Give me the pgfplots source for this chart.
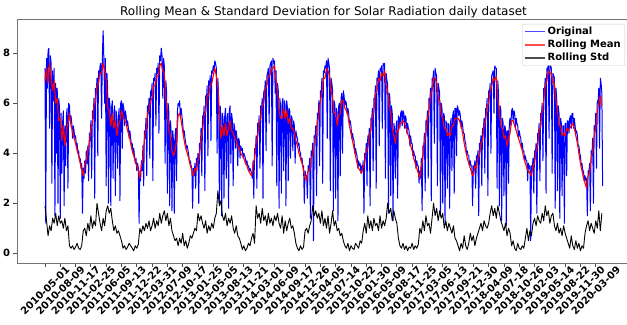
\documentclass[border=0pt]{standalone}
\usepackage{pgfplots}
\pgfplotsset{compat=1.18}
\usepackage{fontspec}
\setmainfont{DejaVu Sans}
\begin{document}
\begin{tikzpicture}
\begin{axis}[
  name=ax,
  scale only axis, width=613pt, height=244pt,
  xmin=-183, xmax=3824, ymin=-0.39, ymax=9.37,
  axis line style={black!55, line width=0.8pt},
  tick style={black!70, line width=0.8pt},
  tick align=outside, major tick length=3.5pt,
  tick pos=left,
  ytick={0,2,4,6,8},
  xtick={0,100,...,3600},
  xticklabels={2010-05-01,2010-08-09,2010-11-17,2011-02-25,2011-06-05,2011-09-13,2011-12-22,2012-03-31,2012-07-09,2012-10-17,2013-01-25,2013-05-05,2013-08-13,2013-11-21,2014-03-01,2014-06-09,2014-09-17,2014-12-26,2015-04-05,2015-07-14,2015-10-22,2016-01-30,2016-05-09,2016-08-17,2016-11-25,2017-03-05,2017-06-13,2017-09-21,2017-12-30,2018-04-09,2018-07-18,2018-10-26,2019-02-03,2019-05-14,2019-08-22,2019-11-30,2020-03-09},
  /pgf/number format/assume math mode=true,
  ticklabel style={font=\bfseries\fontsize{10}{12}\selectfont},
  xticklabel style={yshift=-24pt, rotate=45, anchor=center, inner sep=0pt},
  title={Rolling Mean \& Standard Deviation for Solar Radiation daily dataset},
  title style={font=\fontsize{12}{14}\selectfont, at={(0.5,1)}, anchor=base, yshift=-3pt},
  legend style={at={(1,1)}, anchor=north east, xshift=-5pt, yshift=-5pt, draw=black!20, rounded corners=2pt, fill=white, font=\bfseries\fontsize{10}{12}\selectfont, inner xsep=2pt, inner ysep=1pt},
  legend cell align=left,
  legend image code/.code={\draw[mark repeat=2,mark phase=2,#1] plot coordinates {(0cm,0cm) (0.35cm,0cm) (0.7cm,0cm)};},
  legend image post style={line width=1.4pt, opacity=0.7},
]
\addplot[blue, line width=1.0pt, line join=round] coordinates {
(0,7.4)(5,1.2)(10,7.8)(15,6.6)(20,8.1)(25,8.2)(30,5.0)(35,7.9)(40,7.6)(45,2.8)(50,7.3)(55,6.1)(60,7.4)(65,1.5)(70,6.8)(75,4.0)(80,6.6)(85,2.0)(90,6.2)(95,5.8)(100,1.4)(105,5.6)(110,3.2)(115,5.2)(120,5.7)(125,1.9)(130,5.1)(135,3.5)(140,5.5)(145,5.8)(150,2.6)(155,6.0)(160,5.9)(165,5.3)(170,5.5)(175,5.2)(180,4.6)(185,5.1)(190,4.9)(195,4.6)(200,4.7)(205,4.3)(210,4.4)(215,4.0)(220,4.1)(225,3.7)(230,3.8)(235,3.4)(240,3.6)(245,1.6)(250,3.4)(255,3.0)(260,3.7)(265,3.2)(270,4.1)(275,3.6)(280,4.3)(285,2.9)(290,4.8)(295,4.5)(300,5.3)(305,3.0)(310,5.7)(315,5.4)(320,6.2)(325,2.2)(330,6.6)(335,6.4)(340,7.0)(345,3.9)(350,7.3)(355,7.1)(360,7.5)
(365,7.6)(370,5.4)(375,7.9)(380,8.9)(385,7.7)(390,6.0)(395,7.8)(400,2.7)(405,7.2)(410,6.5)(415,2.0)(420,6.2)(425,5.9)(430,1.9)(435,5.8)(440,6.1)(445,3.0)(450,5.6)(455,5.9)(460,2.3)(465,5.7)(470,5.3)(475,3.4)(480,5.5)(485,5.8)(490,2.1)(495,6.0)(500,6.1)(505,4.2)(510,6.0)(515,5.8)(520,5.1)(525,5.7)(530,5.5)(535,5.1)(540,5.3)(545,5.0)(550,4.6)(555,4.9)(560,4.6)(565,4.3)(570,4.4)(575,4.0)(580,4.2)(585,3.9)(590,3.6)(595,3.8)(600,3.3)(605,3.6)(610,3.4)(615,1.2)(620,3.3)(625,2.9)(630,3.7)(635,3.3)(640,4.3)(645,2.7)(650,4.9)(655,4.6)(660,5.4)(665,3.1)(670,5.9)(675,5.6)(680,6.2)(685,3.8)(690,6.5)(695,6.3)(700,6.8)(705,2.9)(710,7.0)(715,6.9)(720,7.2)(725,5.1)
(730,7.4)(735,7.2)(740,7.6)(745,4.8)(750,7.9)(755,7.7)(760,8.2)(765,7.9)(770,6.2)(775,7.8)(780,7.5)(785,3.6)(790,6.9)(795,6.4)(800,2.4)(805,6.0)(810,5.6)(815,1.9)(820,5.3)(825,4.8)(830,1.7)(835,4.9)(840,4.5)(845,1.6)(850,4.7)(855,5.0)(860,2.9)(865,5.6)(870,6.0)(875,5.9)(880,6.1)(885,5.5)(890,5.8)(895,5.5)(900,5.2)(905,4.8)(910,4.9)(915,4.6)(920,4.4)(925,4.2)(930,4.3)(935,4.1)(940,3.9)(945,3.6)(950,3.7)(955,3.5)(960,3.4)(965,1.8)(970,3.4)(975,3.1)(980,3.6)(985,2.6)(990,3.8)(995,3.5)(1000,4.0)(1005,2.0)(1010,4.4)(1015,4.2)(1020,5.0)(1025,3.1)(1030,5.5)(1035,5.3)(1040,5.9)(1045,2.5)(1050,6.3)(1055,6.1)(1060,6.7)(1065,3.9)(1070,6.9)(1075,6.7)(1080,7.1)(1085,4.5)(1090,7.3)(1095,7.2)
(1100,7.5)(1105,7.3)(1110,7.7)(1115,7.6)(1120,7.4)(1125,4.0)(1130,7.0)(1135,6.2)(1140,2.0)(1145,5.9)(1150,5.4)(1155,1.5)(1160,5.6)(1165,5.3)(1170,2.2)(1175,5.5)(1180,5.8)(1185,3.0)(1190,5.4)(1195,5.6)(1200,1.8)(1205,5.7)(1210,5.9)(1215,3.6)(1220,5.6)(1225,5.3)(1230,2.7)(1235,5.2)(1240,5.0)(1245,4.2)(1250,4.9)(1255,4.6)(1260,3.5)(1265,4.6)(1270,4.5)(1275,3.8)(1280,4.3)(1285,4.1)(1290,4.2)(1295,3.8)(1300,4.0)(1305,3.9)(1310,3.8)(1315,3.6)(1320,3.7)(1325,3.5)(1330,3.5)(1335,3.3)(1340,3.4)(1345,3.3)(1350,3.2)(1355,3.0)(1360,3.7)(1365,2.2)(1370,4.2)(1375,4.0)(1380,4.7)(1385,2.6)(1390,5.2)(1395,5.0)(1400,5.5)(1405,3.4)(1410,5.9)(1415,5.7)(1420,6.2)(1425,2.2)(1430,6.5)(1435,6.4)(1440,6.9)(1445,4.1)(1450,7.1)(1455,7.2)
(1460,7.4)(1465,5.2)(1470,7.5)(1475,7.6)(1480,7.7)(1485,3.5)(1490,7.8)(1495,7.6)(1500,7.7)(1505,6.4)(1510,7.3)(1515,2.7)(1520,6.8)(1525,6.5)(1530,1.8)(1535,6.2)(1540,5.9)(1545,2.4)(1550,6.0)(1555,6.2)(1560,3.3)(1565,6.1)(1570,5.9)(1575,1.9)(1580,6.1)(1585,5.8)(1590,2.9)(1595,5.8)(1600,5.7)(1605,3.8)(1610,5.5)(1615,5.4)(1620,4.1)(1625,5.3)(1630,5.1)(1635,3.6)(1640,4.9)(1645,4.7)(1650,4.6)(1655,4.3)(1660,4.4)(1665,4.1)(1670,4.0)(1675,3.7)(1680,3.8)(1685,3.5)(1690,3.5)(1695,2.0)(1700,3.3)(1705,3.1)(1710,3.1)(1715,2.2)(1720,3.5)(1725,3.3)(1730,3.8)(1735,1.4)(1740,4.1)(1745,3.9)(1750,4.4)(1755,0.5)(1760,4.7)(1765,4.6)(1770,5.1)(1775,2.3)(1780,5.6)(1785,5.4)(1790,6.1)(1795,3.5)(1800,6.5)(1805,6.4)(1810,7.0)(1815,2.8)(1820,7.3)(1825,7.2)
(1830,7.5)(1835,7.4)(1840,7.7)(1845,4.6)(1850,7.8)(1855,7.6)(1860,7.4)(1865,2.5)(1870,7.0)(1875,6.8)(1880,6.5)(1885,1.7)(1890,6.1)(1895,5.9)(1900,2.2)(1905,5.8)(1910,5.6)(1915,1.3)(1920,5.9)(1925,6.0)(1930,3.1)(1935,6.2)(1940,6.4)(1945,4.0)(1950,6.5)(1955,6.3)(1960,5.9)(1965,6.1)(1970,6.0)(1975,5.6)(1980,5.8)(1985,5.6)(1990,5.2)(1995,5.3)(2000,5.1)(2005,4.6)(2010,4.8)(2015,4.6)(2020,4.5)(2025,4.0)(2030,4.2)(2035,4.0)(2040,3.9)(2045,3.4)(2050,3.7)(2055,3.5)(2060,3.6)(2065,3.2)(2070,3.5)(2075,3.3)(2080,3.7)(2085,1.6)(2090,4.0)(2095,3.8)(2100,4.4)(2105,2.7)(2110,4.7)(2115,4.5)(2120,5.0)(2125,1.9)(2130,5.4)(2135,5.3)(2140,5.8)(2145,3.3)(2150,6.2)(2155,6.1)(2160,6.7)(2165,2.6)(2170,7.0)(2175,6.9)(2180,7.3)(2185,4.3)(2190,7.4)(2195,7.3)
(2200,7.5)(2205,5.0)(2210,7.6)(2215,7.5)(2220,7.6)(2225,3.0)(2230,7.2)(2235,6.9)(2240,6.8)(2245,1.6)(2250,6.4)(2255,6.2)(2260,2.3)(2265,5.9)(2270,5.6)(2275,1.3)(2280,5.2)(2285,5.0)(2290,3.0)(2295,5.1)(2300,5.3)(2305,2.2)(2310,5.5)(2315,5.4)(2320,5.0)(2325,5.6)(2330,5.7)(2335,5.1)(2340,5.7)(2345,5.6)(2350,5.0)(2355,5.5)(2360,5.4)(2365,4.8)(2370,5.2)(2375,5.0)(2380,4.9)(2385,4.3)(2390,4.7)(2395,4.4)(2400,4.4)(2405,3.9)(2410,4.1)(2415,3.9)(2420,3.9)(2425,3.4)(2430,3.7)(2435,3.5)(2440,3.5)(2445,2.8)(2450,3.3)(2455,3.0)(2460,3.8)(2465,1.7)(2470,4.3)(2475,4.1)(2480,4.8)(2485,2.5)(2490,5.3)(2495,5.1)(2500,5.7)(2505,3.0)(2510,6.2)(2515,6.0)(2520,6.6)(2525,2.1)(2530,7.0)(2535,6.9)(2540,7.3)(2545,4.4)(2550,7.4)(2555,7.2)
(2560,7.1)(2565,2.7)(2570,6.8)(2575,6.6)(2580,6.4)(2585,1.5)(2590,6.0)(2595,5.8)(2600,2.0)(2605,5.6)(2610,5.5)(2615,1.2)(2620,5.3)(2625,5.2)(2630,2.6)(2635,5.2)(2640,5.1)(2645,1.8)(2650,5.2)(2655,5.4)(2660,3.3)(2665,5.5)(2670,5.7)(2675,2.4)(2680,5.8)(2685,5.8)(2690,3.9)(2695,5.9)(2700,5.8)(2705,5.5)(2710,5.7)(2715,5.5)(2720,5.0)(2725,5.3)(2730,5.1)(2735,4.8)(2740,4.8)(2745,4.5)(2750,4.4)(2755,4.0)(2760,4.1)(2765,3.9)(2770,3.9)(2775,3.5)(2780,3.7)(2785,3.5)(2790,3.5)(2795,1.9)(2800,3.5)(2805,3.4)(2810,3.7)(2815,2.6)(2820,3.9)(2825,3.7)(2830,4.1)(2835,1.5)(2840,4.4)(2845,4.3)(2850,4.7)(2855,2.7)(2860,5.0)(2865,4.9)(2870,5.4)(2875,3.2)(2880,5.8)(2885,5.7)(2890,6.2)(2895,2.3)(2900,6.5)(2905,6.4)(2910,6.8)(2915,4.0)(2920,7.1)(2925,7.2)
(2930,7.3)(2935,5.6)(2940,7.5)(2945,7.4)(2950,7.4)(2955,2.6)(2960,6.9)(2965,6.3)(2970,1.9)(2975,5.9)(2980,5.7)(2985,1.3)(2990,5.4)(2995,5.2)(3000,2.3)(3005,5.1)(3010,5.0)(3015,1.1)(3020,4.9)(3025,4.9)(3030,2.8)(3035,5.2)(3040,5.4)(3045,5.1)(3050,5.7)(3055,5.8)(3060,5.3)(3065,5.7)(3070,5.6)(3075,5.0)(3080,5.4)(3085,5.2)(3090,5.1)(3095,4.6)(3100,4.9)(3105,4.7)(3110,4.6)(3115,4.2)(3120,4.4)(3125,4.1)(3130,4.1)(3135,3.7)(3140,3.9)(3145,3.7)(3150,3.7)(3155,2.9)(3160,3.6)(3165,3.4)(3170,3.5)(3175,0.5)(3180,3.5)(3185,3.4)(3190,3.8)(3195,2.4)(3200,4.1)(3205,3.9)(3210,4.4)(3215,1.6)(3220,4.8)(3225,4.7)(3230,5.2)(3235,2.9)(3240,5.6)(3245,5.5)(3250,6.0)(3255,3.7)(3260,6.6)(3265,6.5)(3270,7.0)(3275,2.4)(3280,7.4)(3285,7.3)(3290,7.6)(3295,4.6)
(3300,7.7)(3305,7.5)(3310,7.4)(3315,3.2)(3320,7.2)(3325,7.1)(3330,7.0)(3335,1.8)(3340,6.6)(3345,6.2)(3350,2.5)(3355,5.9)(3360,5.6)(3365,1.4)(3370,5.4)(3375,5.2)(3380,2.3)(3385,5.1)(3390,5.1)(3395,1.2)(3400,5.2)(3405,5.2)(3410,3.1)(3415,5.3)(3420,5.3)(3425,4.8)(3430,5.4)(3435,5.5)(3440,5.0)(3445,5.6)(3450,5.6)(3455,5.0)(3460,5.4)(3465,5.1)(3470,4.8)(3475,4.9)(3480,4.7)(3485,4.3)(3490,4.3)(3495,4.0)(3500,3.9)(3505,3.5)(3510,3.6)(3515,3.3)(3520,3.3)(3525,2.9)(3530,3.1)(3535,2.9)(3540,3.0)(3545,1.5)(3550,3.3)(3555,3.2)(3560,3.6)(3565,1.7)(3570,4.1)(3575,3.9)(3580,4.6)(3585,2.0)(3590,5.1)(3595,4.9)(3600,5.6)(3605,3.4)(3610,6.1)(3615,6.0)(3620,6.6)(3625,4.2)(3630,7.0)(3635,6.8)(3640,6.4)(3645,2.7)
};
\addlegendentry{Original}
\addplot[red, line width=1.1pt, line join=round] coordinates {
(0,6.9)(10,7.4)(20,6.8)(30,7.6)(40,7.0)(50,6.5)(60,6.9)(70,6.0)(80,6.2)(90,5.3)(100,5.4)(110,4.5)(120,5.1)(130,4.3)(140,4.9)(150,5.2)(160,5.6)(170,5.1)(180,4.9)(190,4.6)(200,4.4)(210,4.1)(220,3.9)(230,3.6)(240,3.4)(250,3.1)(260,3.6)(270,3.7)(280,4.1)(290,4.4)(300,5.0)(310,5.2)(320,5.9)(330,6.1)(340,6.7)(350,6.8)(360,7.2)
(370,7.2)(380,7.6)(390,7.3)(400,6.9)(410,5.8)(420,5.7)(430,5.1)(440,5.6)(450,5.0)(460,5.3)(470,4.7)(480,5.1)(490,5.3)(500,5.7)(510,5.5)(520,5.3)(530,5.2)(540,4.9)(550,4.7)(560,4.4)(570,4.1)(580,3.9)(590,3.7)(600,3.5)(610,3.3)(620,3.0)(630,3.5)(640,3.8)(650,4.6)(660,4.9)(670,5.6)(680,5.7)(690,6.1)(700,6.2)(710,6.7)(720,6.7)
(730,7.1)(740,7.1)(750,7.5)(760,7.6)(770,7.3)(780,7.2)(790,6.2)(800,5.6)(810,4.9)(820,4.7)(830,4.1)(840,3.9)(850,4.1)(860,4.5)(870,5.5)(880,5.6)(890,5.3)(900,4.9)(910,4.5)(920,4.2)(930,4.0)(940,3.8)(950,3.5)(960,3.3)(970,3.1)(980,3.4)(990,3.3)(1000,3.7)(1010,3.9)(1020,4.6)(1030,4.9)(1040,5.5)(1050,5.7)(1060,6.3)(1070,6.3)(1080,6.7)(1090,6.8)
(1100,7.1)(1110,7.4)(1120,7.1)(1130,6.7)(1140,5.5)(1150,4.6)(1160,5.1)(1170,4.7)(1180,5.2)(1190,4.7)(1200,5.0)(1210,5.3)(1220,4.9)(1230,4.8)(1240,4.6)(1250,4.5)(1260,4.3)(1270,4.2)(1280,4.0)(1290,3.9)(1300,3.8)(1310,3.6)(1320,3.5)(1330,3.3)(1340,3.2)(1350,3.1)(1360,3.5)(1370,3.8)(1380,4.4)(1390,4.7)(1400,5.2)(1410,5.4)(1420,5.9)(1430,6.0)(1440,6.6)(1450,6.7)
(1460,7.1)(1470,7.1)(1480,7.4)(1490,7.4)(1500,7.5)(1510,6.9)(1520,6.5)(1530,5.7)(1540,5.4)(1550,5.4)(1560,5.8)(1570,5.4)(1580,5.7)(1590,5.2)(1600,5.4)(1610,5.0)(1620,5.0)(1630,4.8)(1640,4.5)(1650,4.3)(1660,4.0)(1670,3.8)(1680,3.6)(1690,3.3)(1700,3.0)(1710,2.9)(1720,3.3)(1730,3.3)(1740,3.8)(1750,3.9)(1760,4.4)(1770,4.6)(1780,5.2)(1790,5.5)(1800,6.1)(1810,6.4)(1820,7.0)
(1830,7.0)(1840,7.4)(1850,7.3)(1860,7.1)(1870,6.5)(1880,6.2)(1890,5.6)(1900,5.6)(1910,5.1)(1920,5.5)(1930,5.6)(1940,6.1)(1950,6.1)(1960,5.8)(1970,5.7)(1980,5.5)(1990,5.1)(2000,4.8)(2010,4.5)(2020,4.2)(2030,3.9)(2040,3.6)(2050,3.4)(2060,3.3)(2070,3.2)(2080,3.5)(2090,3.6)(2100,4.1)(2110,4.2)(2120,4.7)(2130,4.9)(2140,5.5)(2150,5.7)(2160,6.4)(2170,6.5)(2180,7.0)(2190,6.9)
(2200,7.2)(2210,7.1)(2220,7.3)(2230,6.7)(2240,6.5)(2250,5.9)(2260,5.6)(2270,5.0)(2280,4.7)(2290,4.4)(2300,4.9)(2310,4.9)(2320,5.2)(2330,5.2)(2340,5.3)(2350,5.2)(2360,5.0)(2370,4.8)(2380,4.6)(2390,4.3)(2400,4.1)(2410,3.8)(2420,3.6)(2430,3.4)(2440,3.2)(2450,3.0)(2460,3.5)(2470,3.8)(2480,4.5)(2490,4.8)(2500,5.4)(2510,5.7)(2520,6.3)(2530,6.5)(2540,7.0)(2550,7.0)
(2560,6.8)(2570,6.2)(2580,6.1)(2590,5.5)(2600,5.4)(2610,5.0)(2620,5.0)(2630,4.7)(2640,4.8)(2650,4.7)(2660,5.1)(2670,5.1)(2680,5.4)(2690,5.4)(2700,5.4)(2710,5.3)(2720,5.1)(2730,4.8)(2740,4.4)(2750,4.1)(2760,3.8)(2770,3.6)(2780,3.4)(2790,3.2)(2800,3.1)(2810,3.5)(2820,3.4)(2830,3.8)(2840,3.9)(2850,4.4)(2860,4.5)(2870,5.1)(2880,5.3)(2890,5.9)(2900,6.0)(2910,6.5)(2920,6.7)
(2930,7.0)(2940,6.9)(2950,7.1)(2960,6.2)(2970,5.6)(2980,5.1)(2990,5.0)(3000,4.6)(3010,4.7)(3020,4.3)(3030,4.6)(3040,4.8)(3050,5.3)(3060,5.3)(3070,5.1)(3080,4.9)(3090,4.7)(3100,4.5)(3110,4.3)(3120,4.1)(3130,3.8)(3140,3.6)(3150,3.4)(3160,3.3)(3170,3.2)(3180,3.1)(3190,3.5)(3200,3.6)(3210,4.1)(3220,4.3)(3230,4.9)(3240,5.1)(3250,5.7)(3260,6.1)(3270,6.7)(3280,6.9)(3290,7.3)
(3300,7.2)(3310,7.2)(3320,6.8)(3330,6.8)(3340,6.1)(3350,5.7)(3360,5.1)(3370,5.1)(3380,4.7)(3390,4.8)(3400,4.7)(3410,5.0)(3420,4.9)(3430,5.0)(3440,5.1)(3450,5.2)(3460,5.0)(3470,4.7)(3480,4.4)(3490,4.0)(3500,3.6)(3510,3.3)(3520,3.0)(3530,2.8)(3540,2.6)(3550,3.1)(3560,3.2)(3570,3.8)(3580,4.1)(3590,4.7)(3600,5.0)(3610,5.7)(3620,6.0)(3630,6.3)(3640,5.9)
};
\addlegendentry{Rolling Mean}
\addplot[black, line width=0.9pt, line join=round] coordinates {
(0,1.9)(10,1.3)(20,0.7)(30,1.1)(40,0.9)(50,1.4)(60,1.2)(70,1.6)(80,1.1)(90,1.5)
(100,1.2)(110,1.3)(120,1.0)(130,1.4)(140,0.9)(150,1.1)
(160,0.3)(170,0.2)(180,0.3)(190,0.15)(200,0.25)(210,0.4)(220,0.2)(230,0.15)(240,0.3)
(250,0.9)(260,1.0)(270,0.7)(280,1.2)(290,0.9)(300,1.5)(310,1.0)(320,1.3)(330,1.1)(340,2.0)(350,1.6)(360,1.2)
(370,0.9)(380,1.4)(390,1.1)(400,1.7)(410,1.9)(420,1.6)(430,1.8)(440,1.3)(450,0.9)(460,1.1)(470,0.8)(480,0.9)(490,0.7)(500,0.5)
(510,0.2)(520,0.3)(530,0.15)(540,0.25)(550,0.4)(560,0.3)(570,0.2)(580,0.1)(590,0.3)(600,0.2)(610,0.35)
(620,1.0)(630,0.8)(640,1.1)(650,0.9)(660,1.2)(670,1.0)(680,1.3)(690,0.9)(700,1.1)(710,1.4)(720,1.0)
(730,1.3)(740,1.1)(750,1.6)(760,1.2)(770,1.5)(780,1.7)(790,1.3)(800,1.6)(810,1.1)(820,1.4)(830,0.9)(840,0.7)(850,0.5)(860,0.6)
(870,0.3)(880,0.6)(890,0.4)(900,0.8)(910,0.3)(920,0.5)(930,0.2)(940,0.4)
(950,0.7)(960,0.6)(970,0.8)(980,1.0)(990,0.9)
(1000,1.6)(1010,1.3)(1020,1.5)(1030,1.2)(1040,1.0)(1050,1.3)(1060,0.8)(1070,1.1)(1080,0.9)(1090,1.2)(1100,1.0)(1110,1.4)(1120,1.6)
(1130,2.5)(1140,1.9)(1150,2.1)(1160,1.5)(1170,1.3)
(1180,1.6)(1190,1.1)(1200,1.4)(1210,1.2)(1220,1.5)(1230,1.0)(1240,0.8)(1250,1.1)(1260,0.7)(1270,0.6)
(1280,0.4)(1290,0.15)(1300,0.3)(1310,0.1)(1320,0.2)(1330,0.4)(1340,0.3)
(1350,0.6)(1360,0.8)(1370,0.4)
(1380,1.9)(1390,1.4)(1400,1.6)(1410,1.2)(1420,1.8)(1430,1.3)(1440,1.5)
(1450,1.1)(1460,1.6)(1470,1.2)(1480,1.4)(1490,1.1)(1500,1.5)(1510,1.3)(1520,1.6)(1530,1.2)
(1540,1.0)(1550,1.5)(1560,0.8)(1570,1.3)(1580,0.9)(1590,1.2)(1600,1.4)(1610,1.0)(1620,1.1)(1630,0.8)
(1640,0.4)(1650,0.2)(1660,0.1)(1670,0.3)(1680,0.15)(1690,0.25)
(1700,0.9)(1710,1.0)(1720,0.8)(1730,1.1)
(1740,1.3)(1750,1.9)(1760,1.5)(1770,1.7)(1780,1.4)(1790,1.6)(1800,1.2)(1810,1.7)(1820,1.1)(1830,1.4)
(1840,1.0)(1850,1.5)(1860,0.8)(1870,1.2)(1880,1.7)(1890,1.1)(1900,1.3)(1910,0.9)(1920,1.0)(1930,0.7)(1940,0.8)
(1950,0.5)(1960,0.3)(1970,0.2)(1980,0.4)(1990,0.1)(2000,0.3)(2010,0.2)(2020,0.15)(2030,0.4)(2040,0.3)(2050,0.2)(2060,0.5)(2070,0.4)
(2080,0.9)(2090,1.2)(2100,0.8)(2110,1.5)(2120,1.0)(2130,1.3)(2140,0.9)(2150,1.4)(2160,1.1)(2170,1.2)(2180,0.9)(2190,1.5)(2200,1.0)(2210,1.3)(2220,1.1)(2230,1.4)
(2240,2.0)(2250,1.6)(2260,1.8)(2270,1.3)(2280,1.7)(2290,1.4)(2300,1.2)
(2310,0.6)(2320,0.3)(2330,0.2)(2340,0.4)(2350,0.15)(2360,0.3)(2370,0.1)(2380,0.25)(2390,0.2)(2400,0.4)(2410,0.15)(2420,0.3)(2430,0.2)(2440,0.35)
(2450,1.0)(2460,0.8)(2470,1.3)(2480,0.9)(2490,1.5)(2500,1.1)(2510,1.2)(2520,0.8)(2530,1.4)
(2540,2.0)(2550,1.5)(2560,1.8)(2570,1.3)(2580,1.7)(2590,1.4)(2600,1.6)
(2610,1.0)(2620,1.3)(2630,0.9)(2640,1.2)(2650,1.0)(2660,0.8)(2670,1.1)(2680,0.6)(2690,0.5)
(2700,0.3)(2710,0.1)(2720,0.4)(2730,0.2)(2740,0.7)(2750,0.3)(2760,0.15)(2770,0.4)
(2780,0.8)(2790,0.5)(2800,0.7)(2810,0.3)(2820,0.6)(2830,0.8)
(2840,1.0)(2850,1.2)(2860,0.9)(2870,1.3)(2880,1.1)(2890,1.0)(2900,1.2)
(2910,1.6)(2920,1.9)(2930,1.5)(2940,1.8)(2950,1.4)(2960,1.9)(2970,1.6)(2980,1.3)(2990,1.1)(3000,0.9)(3010,1.2)
(3020,0.7)(3030,1.0)(3040,0.8)
(3050,0.3)(3060,0.5)(3070,0.2)(3080,0.1)(3090,0.4)(3100,0.2)(3110,0.15)(3120,0.3)(3130,0.2)
(3140,0.6)(3150,1.0)(3160,0.5)(3170,0.9)(3180,0.7)
(3190,1.2)(3200,1.4)(3210,1.1)(3220,1.5)(3230,1.3)(3240,1.2)
(3250,1.6)(3260,1.3)(3270,1.9)(3280,1.5)(3290,1.7)(3300,1.2)(3310,1.5)(3320,1.6)
(3330,1.1)(3340,0.9)(3350,1.2)(3360,0.8)(3370,1.0)(3380,0.7)(3390,1.1)(3400,0.8)(3410,0.6)
(3420,0.4)(3430,0.2)(3440,0.7)(3450,0.3)(3460,0.15)(3470,0.5)(3480,0.2)(3490,0.4)(3500,0.1)(3510,0.3)(3520,0.2)
(3530,0.8)(3540,1.1)(3550,1.3)(3560,0.9)(3570,1.2)(3580,1.0)(3590,0.8)(3600,1.3)(3610,1.0)(3620,1.7)
(3630,0.9)(3640,1.6)
};
\addlegendentry{Rolling Std}
\end{axis}
\pgfresetboundingbox
\path[use as bounding box] ([shift={(-17pt,-61pt)}]ax.south west) rectangle ([shift={(-3pt,19pt)}]ax.north east);
\end{tikzpicture}
\end{document}
